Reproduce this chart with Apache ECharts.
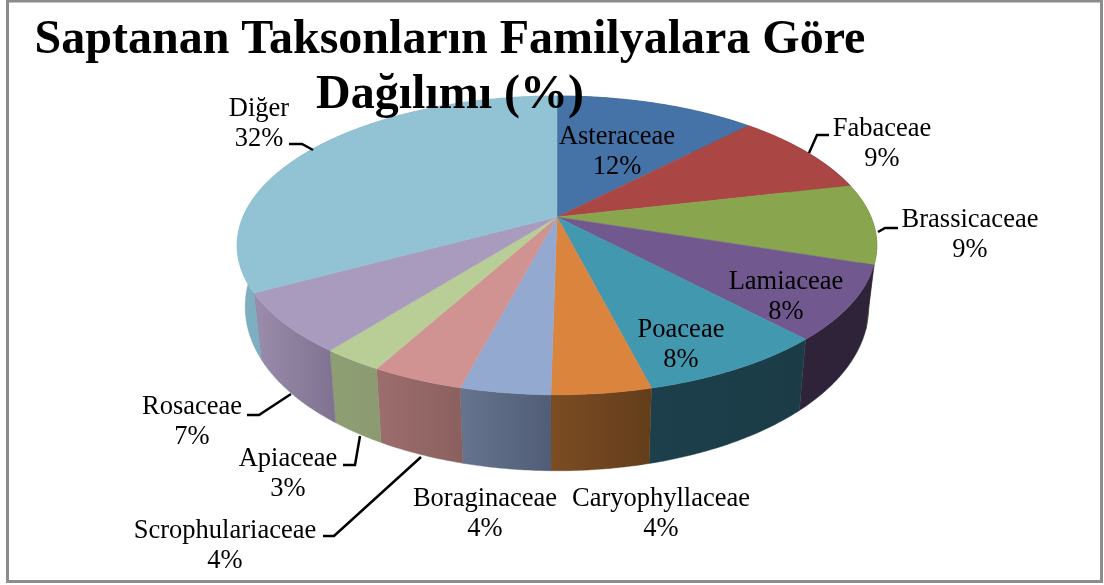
<!DOCTYPE html>
<html>
<head>
<meta charset="utf-8">
<title>Saptanan Taksonların Familyalara Göre Dağılımı</title>
<script src="https://cdn.jsdelivr.net/npm/echarts@6/dist/echarts.min.js"></script>
<style>
 html, body { margin: 0; padding: 0; background: #fff; }
 #main { width: 1104px; height: 585px; }
</style>
</head>
<body>
<div id="main"></div>
<script>
const categories = ['Asteraceae', 'Fabaceae', 'Brassicaceae', 'Lamiaceae', 'Poaceae', 'Caryophyllaceae',
 'Boraginaceae', 'Scrophulariaceae', 'Apiaceae', 'Rosaceae', 'Diğer']
// slice sizes as they look in the picture, the printed labels are rounded a bit differently
const sliceValues = [12.2, 9.2, 8.7, 8, 8, 4.2, 3.8, 3.9, 2.6, 6.5, 33]
const printedPercents = [12, 9, 9, 8, 8, 4, 4, 4, 3, 7, 32]

const topColors = ['#4572A7', '#AA4643', '#89A54E', '#71588F', '#4198AF', '#DB843D',
 '#93A9CF', '#D19392', '#B9CD96', '#A99BBD', '#91C3D5']
const sideLeft = ['#2a4566', '#672a28', '#52632e', '#2e2338', '#1c3f4b', '#7c4c23',
 '#66748f', '#9c6e6d', '#8f9f74', '#9b8dab', '#7fb0c2']
const sideRight = ['#2a4566', '#672a28', '#52632e', '#2e2338', '#1b3c47', '#633e1b',
 '#515d76', '#8a605f', '#8b9a70', '#7e7290', '#6fa0b3']

// label centre x, first line y, leader line points
const labelX = [617, 882, 970, 786, 681, 661, 485, 225, 288, 192, 259]
const labelY = [137, 129, 220, 282, 330, 499, 499, 531, 459, 407, 109]
const leaders = [
 null,
 [[829, 135], [817, 135], [809, 153]],
 [[898, 228], [885, 228], [878, 232]],
 null,
 null,
 null,
 null,
 [[323, 536], [334, 536], [421, 457]],
 [[343, 465], [355, 465], [360, 436]],
 [[247, 415], [259, 415], [291, 394]],
 [[289, 144], [302, 144], [313, 150]]
]

// projected disc
const cx = 557, cy = 217, radius = 314, flat = 144, persp = 0.19

const total = sliceValues.reduce((a, b) => a + b, 0)
const starts = []
let running = 0
sliceValues.forEach(v => { starts.push(running / total * Math.PI * 2); running += v })

const topPoint = (a) => {
 const u = Math.sin(a), v = -Math.cos(a), d = 1 - persp * v
 return [cx + radius * u / d, cy + flat * v / d]
}
const bottomPoint = (a) => {
 const p = topPoint(a), v = -Math.cos(a)
 return [cx + (p[0] - cx) * 0.975, p[1] + 58 + 18 * v]
}
const arc = (i, fn) => {
 const a0 = starts[i]
 const a1 = i + 1 < starts.length ? starts[i + 1] : Math.PI * 2
 const pts = []
 const n = Math.max(2, Math.ceil((a1 - a0) / 0.01))
 for (let k = 0; k <= n; k++) pts.push(fn(a0 + (a1 - a0) * k / n))
 return pts
}

const renderSide = (params) => {
 const i = params.dataIndex
 const pts = arc(i, topPoint).concat(arc(i, bottomPoint).reverse())
 const fill = new echarts.graphic.LinearGradient(0, 0, 1, 0, [
  { offset: 0, color: sideLeft[i] },
  { offset: 1, color: sideRight[i] }
 ])
 return {
  type: 'polygon',
  shape: { points: pts },
  style: { fill: fill, stroke: sideRight[i], lineWidth: 0.4 }
 }
}
const renderTop = (params) => {
 const i = params.dataIndex
 const pts = [[cx, cy]].concat(arc(i, topPoint))
 return {
  type: 'polygon',
  shape: { points: pts },
  style: { fill: topColors[i], stroke: topColors[i], lineWidth: 0.5 }
 }
}
const renderLabel = (params) => {
 const i = params.dataIndex
 const children = [categories[i], printedPercents[i] + '%'].map((t, k) => ({
  type: 'text',
  style: {
   x: labelX[i],
   y: labelY[i] + k * 30,
   text: t,
   fill: '#000',
   font: '26.5px "Liberation Serif"',
   align: 'center',
   verticalAlign: 'middle'
  }
 }))
 if (leaders[i]) {
  children.push({
   type: 'polyline',
   shape: { points: leaders[i] },
   style: { stroke: '#000', lineWidth: 2.5, fill: 'none' }
  })
 }
 return { type: 'group', children: children }
}

const chart = echarts.init(document.getElementById('main'))
chart.setOption({
 animation: false,
 title: {
  text: 'Saptanan Taksonların Familyalara Göre\nDağılımı (%)',
  left: 445,
  top: 8,
  textAlign: 'center',
  textStyle: {
   fontFamily: 'Liberation Serif',
   fontWeight: 'bold',
   fontSize: 48,
   lineHeight: 55,
   color: '#000'
  }
 },
 graphic: [{
  type: 'rect',
  silent: true,
  shape: { x: 7.5, y: 1, width: 1094, height: 580.5 },
  style: { fill: 'none', stroke: '#8c8c8c', lineWidth: 3 }
 }],
 series: [
  { type: 'custom', coordinateSystem: 'none', silent: true, z: 1, data: sliceValues, renderItem: renderSide },
  { type: 'custom', coordinateSystem: 'none', silent: true, z: 2, data: sliceValues, renderItem: renderTop },
  { type: 'custom', coordinateSystem: 'none', silent: true, z: 3, data: sliceValues, renderItem: renderLabel }
 ]
})
</script>
</body>
</html>
